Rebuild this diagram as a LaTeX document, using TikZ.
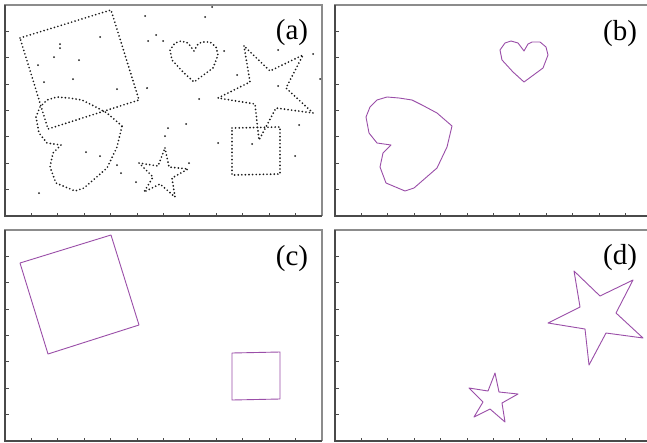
\documentclass[tikz,border=0pt]{standalone}
\usepackage{fontspec}
\setmainfont{Liberation Serif}
\definecolor{traceViolet}{HTML}{9A4EA8}
\definecolor{axisGrey}{HTML}{4A4A4A}
\definecolor{rimGrey}{HTML}{8C8C8C}

% outlines, in panel coordinates (origin at the panel's top left corner)
\newcommand{\bigSquare}{(15,33) -- (106,5) -- (134,95) -- (43,124) -- cycle}
\newcommand{\smallSquare}{(227,123) -- (275,122) -- (275,169) -- (227,170) -- cycle}
\newcommand{\bigHeart}{(117,121) -- (102,108) -- (87,100) -- (77,95) -- (64,93)
  -- (52,92) -- (42,95) -- (35,102) -- (31,112) -- (34,128) -- (42,138) -- (56,140)
  -- (48,148) -- (45,162) -- (51,178) -- (70,186) -- (79,183) -- (102,163)
  -- (112,142) -- cycle}
\newcommand{\smallHeart}{(189,46) -- (193,39) -- (197,37) -- (205,37) -- (211,42)
  -- (213,50) -- (208,63) -- (189,77) -- (178,67) -- (167,55) -- (165,45)
  -- (170,38) -- (176,36) -- (183,38) -- cycle}
\newcommand{\bigStar}{(239,41) -- (245,77) -- (213,93) -- (250,99) -- (254,135)
  -- (271,103) -- (308,108) -- (281,83) -- (298,50) -- (265,66) -- cycle}
\newcommand{\smallStar}{(160,143) -- (164,162) -- (183,164) -- (167,173) -- (170,192)
  -- (155,179) -- (139,187) -- (148,172) -- (134,158) -- (153,161) -- cycle}

\begin{document}
\begin{tikzpicture}[x=1pt, y=-1pt,
   frameAxis/.style={draw=axisGrey, line width=1.4pt},
   frameRim/.style={draw=rimGrey, line width=1.2pt},
   tickmark/.style={draw=axisGrey, line width=0.8pt},
   traceLine/.style={draw=traceViolet, line width=0.9pt, line join=round},
   dotLine/.style={draw=black!90, line width=1.9pt, line cap=round,
                   dash pattern=on 0pt off 3.6pt},
   noiseDot/.style={fill=black!90},
   panelLabel/.style={inner sep=0pt, font=\fontsize{29}{29}\selectfont}]
\clip (0,0) rectangle (647,442);
\fill[white] (0,0) rectangle (647,442);

% frames and ticks
\foreach \ox/\oy in {5/5, 335/5, 5/230, 335/230} {
  \begin{scope}[shift={(\ox,\oy)}]
    \draw[frameRim] (0,211) -- (0,0) -- (317,0) -- (317,211);
    \draw[frameAxis] (0,0) -- (0,211) -- (317,211);
    \foreach \k in {1,...,11}
      \draw[tickmark] (26.4*\k,211) -- ++(0,-3.5);
    \foreach \k in {1,...,7}
      \draw[tickmark] (0,211-26.4*\k) -- ++(3.5,0);
  \end{scope}
}

% (a) sampled points with noise
\begin{scope}[shift={(5,5)}]
  \foreach \shp in {\bigSquare, \smallSquare, \bigHeart, \smallHeart, \bigStar, \smallStar}
    \draw[dotLine] \shp;
  \foreach \px/\py in {140/11, 207/2, 200/12, 151/30, 158/36, 143/36, 95/32, 55/39,
                       55/43, 49/52, 74/55, 33/60, 68/74, 39/77, 112/84, 142/83,
                       194/94, 219/46, 232/70, 273/45, 308/49, 315/74, 273/81,
                       163/123, 181/119, 160/131, 213/138, 247/139, 294/120,
                       290/151, 81/147, 95/151, 112/160, 116/168, 131/177,
                       34/188, 184/158}
    \fill[noiseDot] (\px,\py) circle[radius=1pt];
\end{scope}

% (b) hearts
\begin{scope}[shift={(335,5)}]
  \draw[traceLine] \bigHeart;
  \draw[traceLine] \smallHeart;
\end{scope}

% (c) squares
\begin{scope}[shift={(5,230)}]
  \draw[traceLine] \bigSquare;
  \draw[traceLine] \smallSquare;
\end{scope}

% (d) stars
\begin{scope}[shift={(335,230)}]
  \draw[traceLine] \bigStar;
  \draw[traceLine] \smallStar;
\end{scope}

\node[panelLabel] (lblA) at (292,32.5) {(a)};
\node[panelLabel] (lblB) at (620,33.5) {(b)};
\node[panelLabel] (lblC) at (292,258.5) {(c)};
\node[panelLabel] (lblD) at (620,257.5) {(d)};
\end{tikzpicture}
\end{document}
